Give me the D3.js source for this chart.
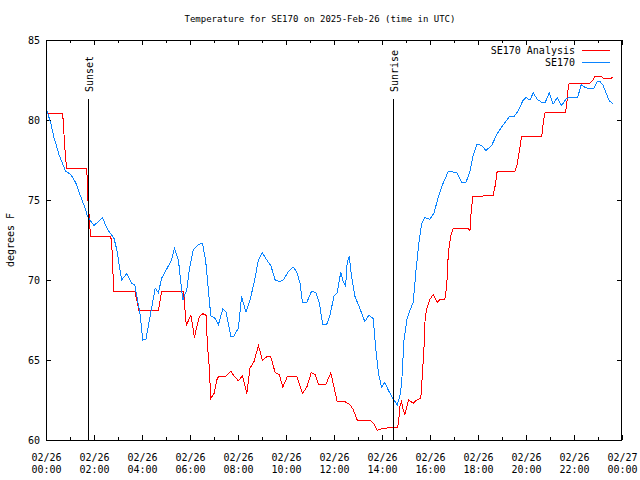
<!DOCTYPE html>
<html><head><meta charset="utf-8">
<script src="https://cdn.jsdelivr.net/npm/d3@7"></script>
<style>
body{margin:0;background:#fff;}
text{font-family:"DejaVu Sans Mono",monospace;font-size:10px;fill:#000;}
</style></head>
<body>
<svg id="c" width="640" height="480"></svg>
<script>
const title = "Temperature for SE170 on 2025-Feb-26 (time in UTC)";
const yLabel = "degrees F";
const seriesNames = ["SE170 Analysis", "SE170"];
const eventNames = ["Sunset", "Sunrise"];
const eventTimes = ["01:44", "14:28"];
const yTicks = [60, 65, 70, 75, 80, 85];

const obsTimes = ["00:02","00:12","00:20","00:33","00:49","01:02","01:14","01:27","01:39","01:43","02:00","02:21","02:33","02:50","02:57","03:09","03:22","03:34","03:42","03:55","04:02","04:10","04:20","04:33","04:41","04:49","05:02","05:14","05:21","05:31","05:42","05:52","05:58","06:08","06:21","06:31","06:39","06:52","07:03","07:11","07:22","07:30","07:42","07:50","08:01","08:09","08:13","08:20","08:30","08:40","08:51","09:01","09:12","09:22","09:33","09:43","09:53","10:08","10:18","10:27","10:35","10:41","10:52","11:04","11:15","11:23","11:32","11:42","11:50","12:00","12:08","12:17","12:23","12:29","12:33","12:38","12:44","12:52","13:05","13:17","13:27","13:38","13:44","13:51","13:59","14:07","14:18","14:30","14:38","14:45","14:49","14:55","15:02","15:10","15:18","15:25","15:33","15:39","15:47","16:00","16:10","16:21","16:32","16:46","17:07","17:19","17:30","17:40","17:48","17:58","18:09","18:20","18:34","18:47","19:03","19:18","19:30","19:41","19:53","20:00","20:10","20:18","20:28","20:39","20:48","20:58","21:08","21:18","21:29","21:40","21:46","22:09","22:18","22:23","22:32","22:50","22:58","23:05","23:12","23:20","23:28","23:38"];
const obsTemps = [80.6,79.8,78.9,77.8,76.8,76.6,76.1,75.2,74.4,74.0,73.4,73.9,73.2,72.6,71.9,70.0,70.4,69.8,69.7,67.9,66.25,66.3,67.7,69.5,69.2,70.1,70.7,71.25,72.0,71.25,68.75,69.4,70.6,71.9,72.2,72.3,71.25,67.75,67.6,67.2,68.2,68.0,66.5,66.5,67.0,69.0,68.6,68.0,68.75,69.8,71.25,71.7,71.25,70.9,70.0,69.9,70.0,70.6,70.8,70.5,69.8,68.6,68.6,69.3,69.2,68.6,67.2,67.25,67.8,69.0,69.2,70.5,69.9,69.6,71.1,71.5,70.2,69.0,68.2,67.4,67.8,67.6,65.8,64.2,63.3,63.6,63.0,62.5,62.2,62.8,63.5,66.25,67.5,68.1,68.6,70.6,72.5,73.5,73.9,73.8,74.2,75.2,76.0,76.8,76.7,76.1,76.1,76.8,77.8,78.5,78.4,78.1,78.4,79.1,79.7,80.2,80.2,80.6,81.25,81.4,81.25,81.7,81.3,81.1,81.1,81.7,81.0,81.4,80.9,81.3,81.4,81.4,82.2,82.1,82.0,82.0,82.4,82.4,82.2,81.7,81.2,81.0];

const anaTimes = ["00:02","00:41","00:43","00:45","00:47","00:50","00:52","01:42","01:44","01:47","01:49","01:51","02:42","02:44","02:46","02:47","02:50","03:42","03:47","03:52","04:41","04:49","05:43","05:46","05:49","05:52","05:58","06:02","06:07","06:11","06:17","06:23","06:32","06:40","06:44","06:48","06:52","07:00","07:07","07:12","07:23","07:30","07:42","07:50","08:01","08:11","08:22","08:30","08:40","08:51","09:01","09:12","09:22","09:33","09:43","09:52","10:04","10:27","10:41","10:52","11:03","11:13","11:21","11:40","11:52","12:00","12:08","12:27","12:40","12:48","12:58","13:30","13:40","13:48","13:59","14:28","14:38","14:41","14:45","14:49","14:53","14:57","15:06","15:18","15:27","15:37","15:42","15:45","15:48","15:53","16:00","16:08","16:18","16:25","16:37","16:42","16:44","16:48","16:52","16:58","17:36","17:40","17:42","17:47","18:12","18:22","18:38","18:43","18:48","19:32","19:37","19:41","19:45","19:49","20:39","20:42","20:43","20:48","21:39","21:42","21:44","21:48","22:40","22:47","22:52","23:09","23:13","23:32","23:38"];
const anaTemps = [80.4,80.4,80.0,79.1,78.3,77.4,77.0,77.0,75.3,74.3,73.75,72.7,72.7,72.3,71.5,70.6,69.3,69.3,68.75,68.1,68.1,69.3,69.3,68.75,67.5,67.2,67.6,67.8,67.1,66.4,67.1,67.7,67.9,67.8,65.8,64.6,62.6,62.9,63.75,64.0,64.0,64.0,64.3,64.0,63.7,64.0,62.9,64.5,64.9,65.9,65.0,65.2,65.2,64.2,64.1,63.3,64.0,64.0,62.9,63.3,64.2,64.1,63.5,63.5,64.2,63.3,62.4,62.4,62.2,61.9,61.25,61.25,61.0,60.6,60.7,60.8,60.8,61.0,62.1,62.4,61.9,61.6,62.5,62.3,62.5,62.6,64.5,65.8,67.7,68.3,68.8,69.1,68.6,68.8,68.8,69.6,71.0,72.1,72.8,73.2,73.2,73.1,74.0,75.25,75.25,75.3,75.3,75.9,76.8,76.8,77.1,77.7,78.3,79.0,79.0,79.4,79.9,80.5,80.5,81.0,81.7,82.3,82.3,82.5,82.7,82.7,82.6,82.6,82.7];

const colors = ["#ff0000", "#0a84ff"];

const day = "2025-02-26";
const toDate = t => new Date(day + "T" + t + ":00Z");
const t0 = new Date("2025-02-26T00:00:00Z"), t1 = new Date("2025-02-27T00:00:00Z");

const L = 46, R = 622, T = 40, B = 440;
const svg = d3.select("#c");
const x = d3.scaleUtc().domain([t0, t1]).range([L, R]);
const y = d3.scaleLinear().domain([60, 85]).range([B, T]);

const major = d3.utcHour.every(2).range(t0, d3.utcHour.offset(t1, 1));
const minor = d3.utcHour.every(1).range(t0, d3.utcHour.offset(t1, 1)).filter(d => d.getUTCHours() % 2 === 1);

const g = svg.append("g").attr("shape-rendering", "crispEdges");
const bx = g.append("g").attr("transform", `translate(0,${B})`)
  .call(d3.axisBottom(x).tickValues(major).tickSize(-5).tickPadding(0).tickFormat(""));
bx.select(".domain").remove();
const fmtD = d3.utcFormat("%m/%d"), fmtT = d3.utcFormat("%H:%M");
bx.selectAll(".tick").each(function(d){
  const tx = d3.select(this).append("text").attr("text-anchor","middle").attr("fill","#000");
  tx.append("tspan").attr("x",0).attr("y",21).text(fmtD(d));
  tx.append("tspan").attr("x",0).attr("y",33).text(fmtT(d));
});
g.append("g").attr("transform", `translate(0,${B})`)
  .call(d3.axisBottom(x).tickValues(minor).tickSize(-3).tickFormat("")).select(".domain").remove();
g.append("g").attr("transform", `translate(0,${T})`)
  .call(d3.axisTop(x).tickValues(major).tickSize(-5).tickFormat("")).select(".domain").remove();
g.append("g").attr("transform", `translate(0,${T})`)
  .call(d3.axisTop(x).tickValues(minor).tickSize(-3).tickFormat("")).select(".domain").remove();
const ly = g.append("g").attr("transform", `translate(${L},0)`)
  .call(d3.axisLeft(y).tickValues(yTicks).tickSize(-5).tickPadding(6).tickFormat(d3.format("d")));
ly.select(".domain").remove();
ly.selectAll("text").attr("dy","0.35em");
g.append("g").attr("transform", `translate(${R},0)`)
  .call(d3.axisRight(y).tickValues(yTicks).tickSize(-5).tickFormat("")).select(".domain").remove();
svg.selectAll(".tick line").attr("stroke","#000");
svg.selectAll(".tick text").attr("fill","#000");
svg.selectAll("g").filter(function(){return this.getAttribute("font-family");}).attr("font-family",null).attr("font-size",null);

const line = d3.line().x(d => x(d[0])).y(d => y(d[1]));
svg.append("clipPath").attr("id","cp").append("rect").attr("x",L).attr("y",T).attr("width",R-L).attr("height",B-T);
const ana = anaTimes.map((t,i) => [toDate(t), anaTemps[i]]);
const obs = obsTimes.map((t,i) => [toDate(t), obsTemps[i]]);
svg.append("path").datum(ana).attr("d", line).attr("fill","none").attr("stroke",colors[0]).attr("stroke-width",1).attr("shape-rendering","crispEdges").attr("clip-path","url(#cp)");
svg.append("path").datum(obs).attr("d", line).attr("fill","none").attr("stroke",colors[1]).attr("stroke-width",1).attr("shape-rendering","crispEdges").attr("clip-path","url(#cp)");

eventTimes.forEach((t,i) => {
  const ex = Math.round(x(toDate(t))) + 0.5;
  svg.append("line").attr("x1",ex).attr("x2",ex).attr("y1",T+59).attr("y2",B)
    .attr("stroke","#000").attr("stroke-width",1).attr("shape-rendering","crispEdges");
  svg.append("text").attr("transform",`translate(${ex+4},${T+52}) rotate(-90)`)
    .attr("text-anchor","start").text(eventNames[i]);
});

svg.append("rect").attr("x",L+0.5).attr("y",T+0.5).attr("width",R-L-1).attr("height",B-T)
  .attr("fill","none").attr("stroke","#000").attr("shape-rendering","crispEdges");

svg.append("text").attr("x",320).attr("y",22).attr("text-anchor","middle").style("font-size","9px").text(title);
svg.append("text").attr("transform","translate(14,240) rotate(-90)").attr("text-anchor","middle").text(yLabel);

seriesNames.forEach((n,i) => {
  const ly0 = 50 + i*12;
  svg.append("text").attr("x",575).attr("y",ly0+4).attr("text-anchor","end").text(n);
  svg.append("line").attr("x1",582).attr("x2",610).attr("y1",ly0+0.5).attr("y2",ly0+0.5)
    .attr("stroke",colors[i]).attr("stroke-width",1).attr("shape-rendering","crispEdges");
});
</script>
</body></html>
